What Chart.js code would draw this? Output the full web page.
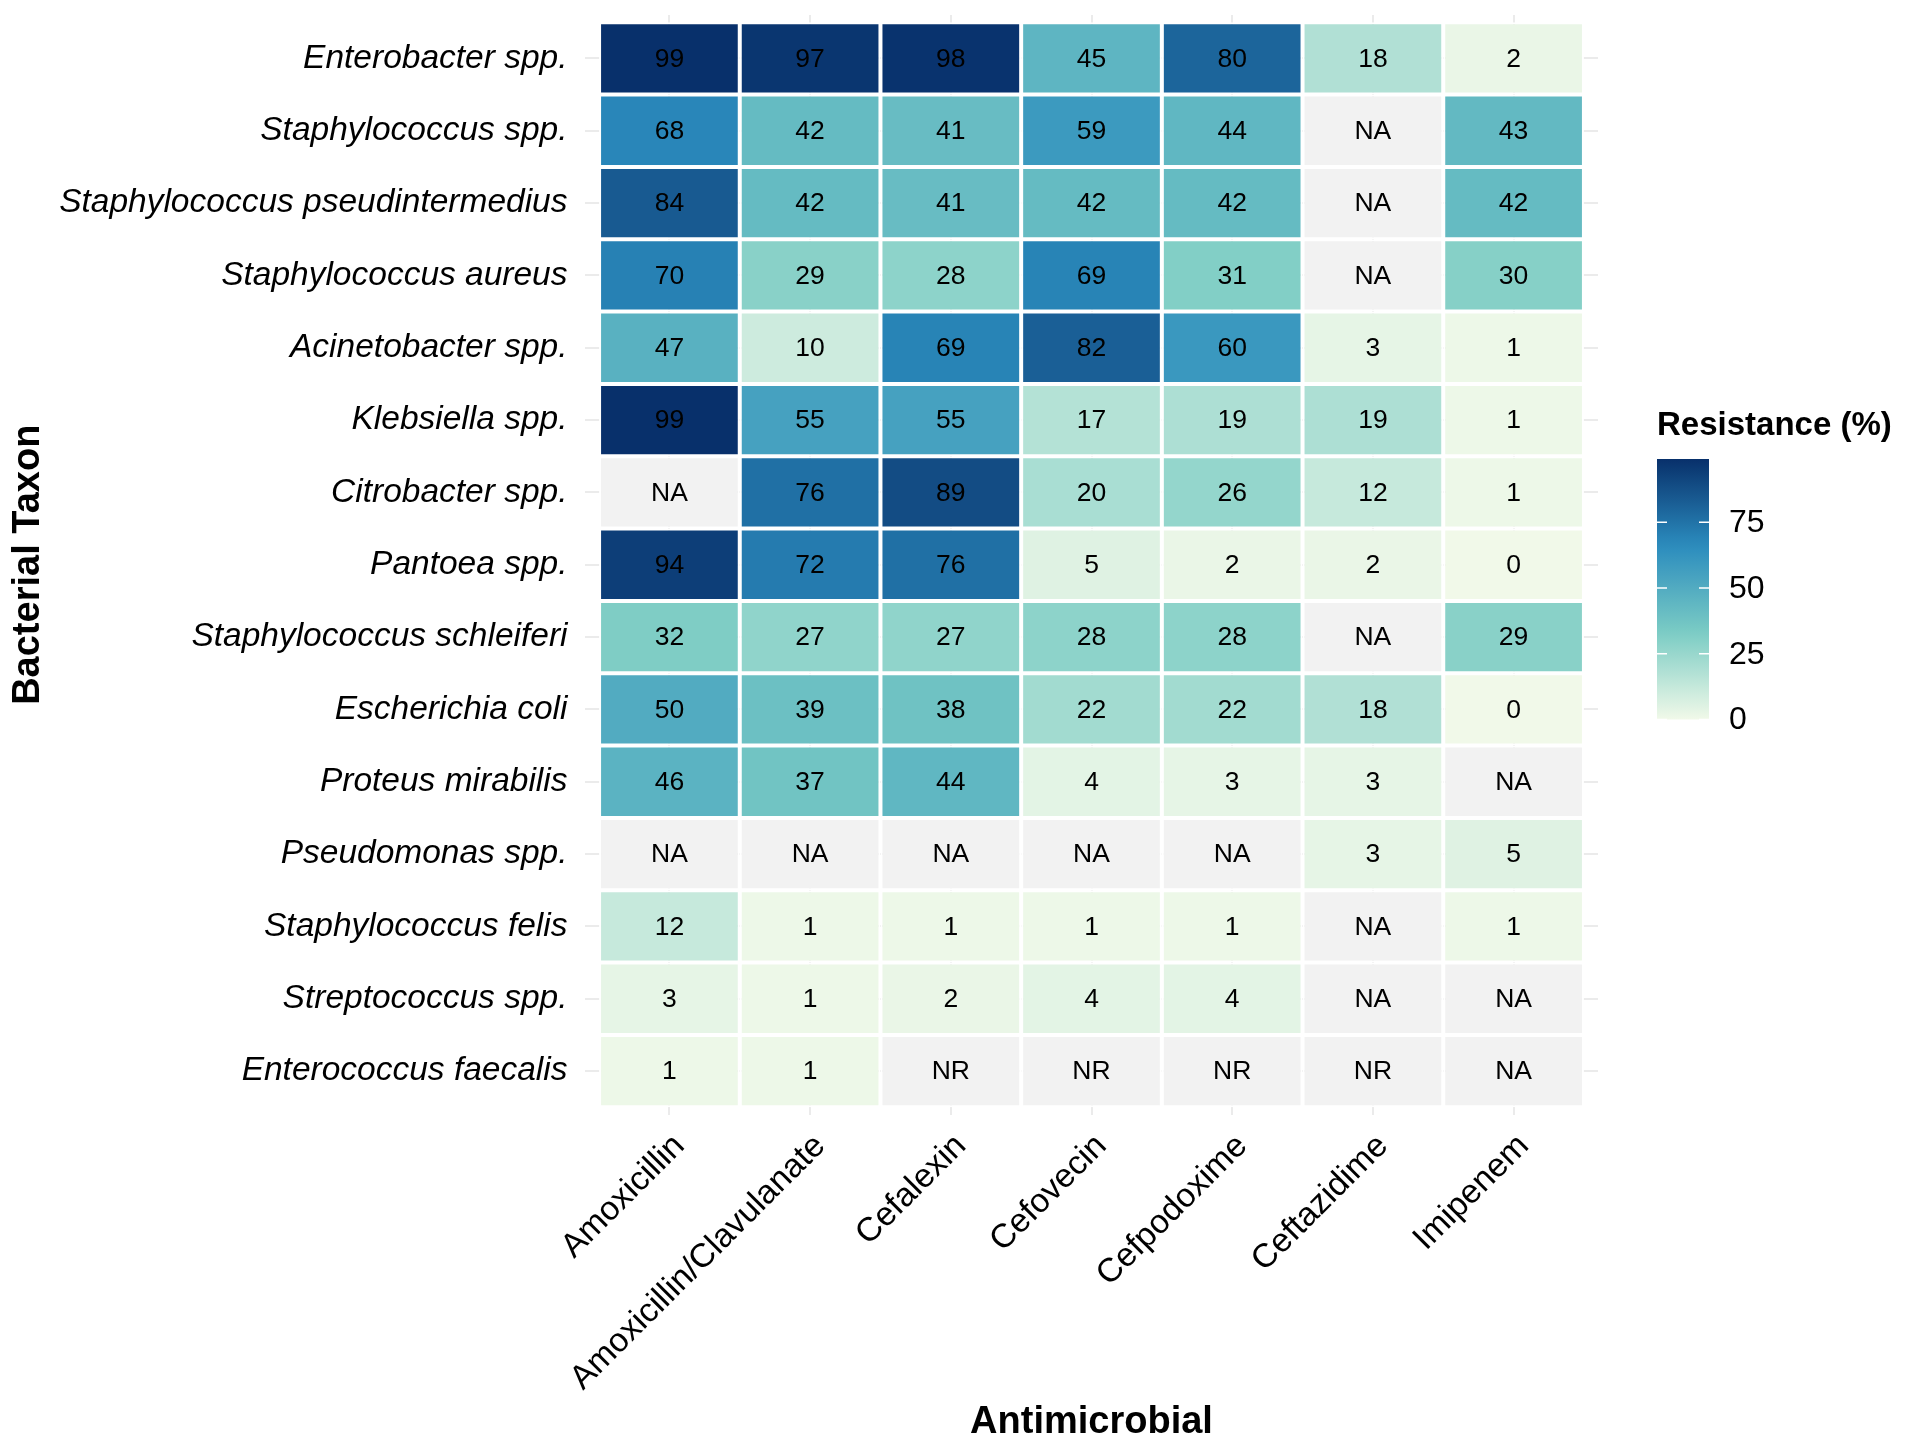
<!DOCTYPE html>
<html>
<head>
<meta charset="utf-8">
<script src="https://cdn.jsdelivr.net/npm/chart.js@4.4.0/dist/chart.umd.min.js"></script>
<style>
    html, body { margin: 0; padding: 0; background: #ffffff; }
    #wrap { width: 1908px; height: 1449px; position: relative; }
</style>
</head>
<body>
<div id="wrap"><canvas id="heatCanvas"></canvas></div>
<script>
// categorias
const antimicrobials = ['Amoxicillin', 'Amoxicillin/Clavulanate', 'Cefalexin', 'Cefovecin', 'Cefpodoxime', 'Ceftazidime', 'Imipenem'];
const taxa = [
    'Enterobacter spp.', 'Staphylococcus spp.', 'Staphylococcus pseudintermedius', 'Staphylococcus aureus',
    'Acinetobacter spp.', 'Klebsiella spp.', 'Citrobacter spp.', 'Pantoea spp.', 'Staphylococcus schleiferi',
    'Escherichia coli', 'Proteus mirabilis', 'Pseudomonas spp.', 'Staphylococcus felis', 'Streptococcus spp.',
    'Enterococcus faecalis'
];

// resistência (%) por táxon, na ordem dos antimicrobianos
const enterobacter = [99, 97, 98, 45, 80, 18, 2];
const staphSpp = [68, 42, 41, 59, 44, 'NA', 43];
const staphPseud = [84, 42, 41, 42, 42, 'NA', 42];
const staphAureus = [70, 29, 28, 69, 31, 'NA', 30];
const acinetobacter = [47, 10, 69, 82, 60, 3, 1];
const klebsiella = [99, 55, 55, 17, 19, 19, 1];
const citrobacter = ['NA', 76, 89, 20, 26, 12, 1];
const pantoea = [94, 72, 76, 5, 2, 2, 0];
const staphSchleiferi = [32, 27, 27, 28, 28, 'NA', 29];
const eColi = [50, 39, 38, 22, 22, 18, 0];
const proteus = [46, 37, 44, 4, 3, 3, 'NA'];
const pseudomonas = ['NA', 'NA', 'NA', 'NA', 'NA', 3, 5];
const staphFelis = [12, 1, 1, 1, 1, 'NA', 1];
const streptococcus = [3, 1, 2, 4, 4, 'NA', 'NA'];
const enterococcus = [1, 1, 'NR', 'NR', 'NR', 'NR', 'NA'];

const rows = [enterobacter, staphSpp, staphPseud, staphAureus, acinetobacter, klebsiella, citrobacter,
    pantoea, staphSchleiferi, eColi, proteus, pseudomonas, staphFelis, streptococcus, enterococcus];

// escala de cor
const legendTicks = [0, 25, 50, 75];
const legendMin = 0;
const legendMax = 99;
const paletteColors = ['#F1F9E9', '#7BCCC4', '#2B8CBE', '#08306B'];
const naColor = '#F2F2F2';

const FONT = '"Liberation Sans", Arial, Helvetica, sans-serif';

function hexToRgb(hex) {
    const n = parseInt(hex.slice(1), 16);
    return [(n >> 16) & 255, (n >> 8) & 255, n & 255];
}

function colorFor(v) {
    if (typeof v !== 'number') return naColor;
    const t = Math.min(Math.max((v - legendMin) / (legendMax - legendMin), 0), 1);
    const seg = Math.min(Math.floor(t * (paletteColors.length - 1)), paletteColors.length - 2);
    const f = t * (paletteColors.length - 1) - seg;
    const a = hexToRgb(paletteColors[seg]);
    const b = hexToRgb(paletteColors[seg + 1]);
    const c = a.map((x, k) => Math.round(x + (b[k] - x) * f));
    return `rgb(${c[0]}, ${c[1]}, ${c[2]})`;
}

// um dataset por táxon, barras flutuantes [i, i+1]
const datasets = rows.map((row, i) => ({
    label: taxa[i],
    data: row.map((v, j) => ({ x: j + 0.5, y: [i, i + 1] })),
    backgroundColor: row.map(v => colorFor(v)),
    borderColor: '#ffffff',
    borderWidth: 2,
    borderSkipped: false,
    inflateAmount: 0,
    grouped: false,
    barPercentage: 1,
    categoryPercentage: 1
}));

// rótulos dentro das células
const cellLabels = {
    id: 'cellLabels',
    afterDatasetsDraw(chart) {
        const ctx = chart.ctx;
        ctx.save();
        ctx.font = `26.5px ${FONT}`;
        ctx.fillStyle = '#000000';
        ctx.textAlign = 'center';
        ctx.textBaseline = 'middle';
        chart.data.datasets.forEach((ds, i) => {
            chart.getDatasetMeta(i).data.forEach((bar, j) => {
                const { x, y, base } = bar.getProps(['x', 'y', 'base'], true);
                ctx.fillText(String(rows[i][j]), x, (y + base) / 2 + 1);
            });
        });
        ctx.restore();
    }
};

// barra de cores da legenda
const colorBar = {
    id: 'colorBar',
    afterDraw(chart) {
        const ctx = chart.ctx;
        const left = 1657, width = 52, top = 459, bottom = 719.5;
        const yFor = v => bottom - (v - legendMin) / (legendMax - legendMin) * (bottom - top);
        ctx.save();
        ctx.font = `bold 33px ${FONT}`;
        ctx.fillStyle = '#000000';
        ctx.textAlign = 'left';
        ctx.textBaseline = 'alphabetic';
        ctx.fillText('Resistance (%)', 1657, 435);

        const grad = ctx.createLinearGradient(0, bottom, 0, top);
        for (let k = 0; k <= 20; k++) {
            const v = legendMin + (legendMax - legendMin) * k / 20;
            grad.addColorStop(k / 20, colorFor(v));
        }
        ctx.fillStyle = grad;
        ctx.fillRect(left, top, width, bottom - top);

        ctx.strokeStyle = '#ffffff';
        ctx.lineWidth = 1.5;
        ctx.font = `32px ${FONT}`;
        ctx.fillStyle = '#000000';
        ctx.textBaseline = 'middle';
        legendTicks.forEach(v => {
            const y = yFor(v);
            ctx.beginPath();
            ctx.moveTo(left, y); ctx.lineTo(left + 10, y);
            ctx.moveTo(left + width - 10, y); ctx.lineTo(left + width, y);
            ctx.stroke();
            ctx.fillText(String(v), 1729, y + 1);
        });
        ctx.restore();
    }
};

const heatCanvas = document.getElementById('heatCanvas');

new Chart(heatCanvas, {
    type: 'bar',
    data: { datasets },
    plugins: [cellLabels, colorBar],
    options: {
        responsive: true,
        maintainAspectRatio: false,
        animation: false,
        layout: { padding: { top: 15, right: 310, left: 0, bottom: 0 } },
        plugins: {
            legend: { display: false },
            tooltip: { enabled: false }
        },
        scales: {
            x: {
                type: 'linear',
                min: -0.1,
                max: 7.1,
                offset: false,
                afterBuildTicks: scale => {
                    scale.ticks = antimicrobials.map((_, j) => ({ value: j + 0.5 }));
                },
                afterFit: scale => {
                    scale.height = 334.5;
                    scale.paddingLeft = 0;
                    scale.paddingRight = 0;
                },
                grid: { offset: false, color: '#EBEBEB', lineWidth: 2, drawTicks: false },
                border: { display: false },
                ticks: {
                    autoSkip: false,
                    minRotation: 45,
                    maxRotation: 45,
                    padding: 12,
                    labelOffset: 10,
                    color: '#000000',
                    font: { family: FONT, size: 33.5 },
                    callback: value => antimicrobials[Math.floor(value)]
                },
                title: {
                    display: true,
                    text: 'Antimicrobial',
                    color: '#000000',
                    font: { family: FONT, size: 38, weight: 'bold' },
                    padding: { top: 0, bottom: 4 }
                }
            },
            y: {
                type: 'linear',
                reverse: true,
                min: -0.1,
                max: 15.1,
                afterBuildTicks: scale => {
                    scale.ticks = taxa.map((_, i) => ({ value: i + 0.5 }));
                },
                afterFit: scale => {
                    scale.width = 585;
                    scale.paddingTop = 0;
                    scale.paddingBottom = 0;
                },
                grid: { color: '#EBEBEB', lineWidth: 2, drawTicks: false },
                border: { display: false },
                ticks: {
                    autoSkip: false,
                    padding: 17.5,
                    color: '#000000',
                    font: { family: FONT, size: 33.5, style: 'italic' },
                    callback: value => taxa[Math.floor(value)]
                },
                title: {
                    display: true,
                    text: 'Bacterial Taxon',
                    color: '#000000',
                    font: { family: FONT, size: 38, weight: 'bold' },
                    padding: { top: 6, bottom: 0 }
                }
            }
        }
    }
});
</script>
</body>
</html>
